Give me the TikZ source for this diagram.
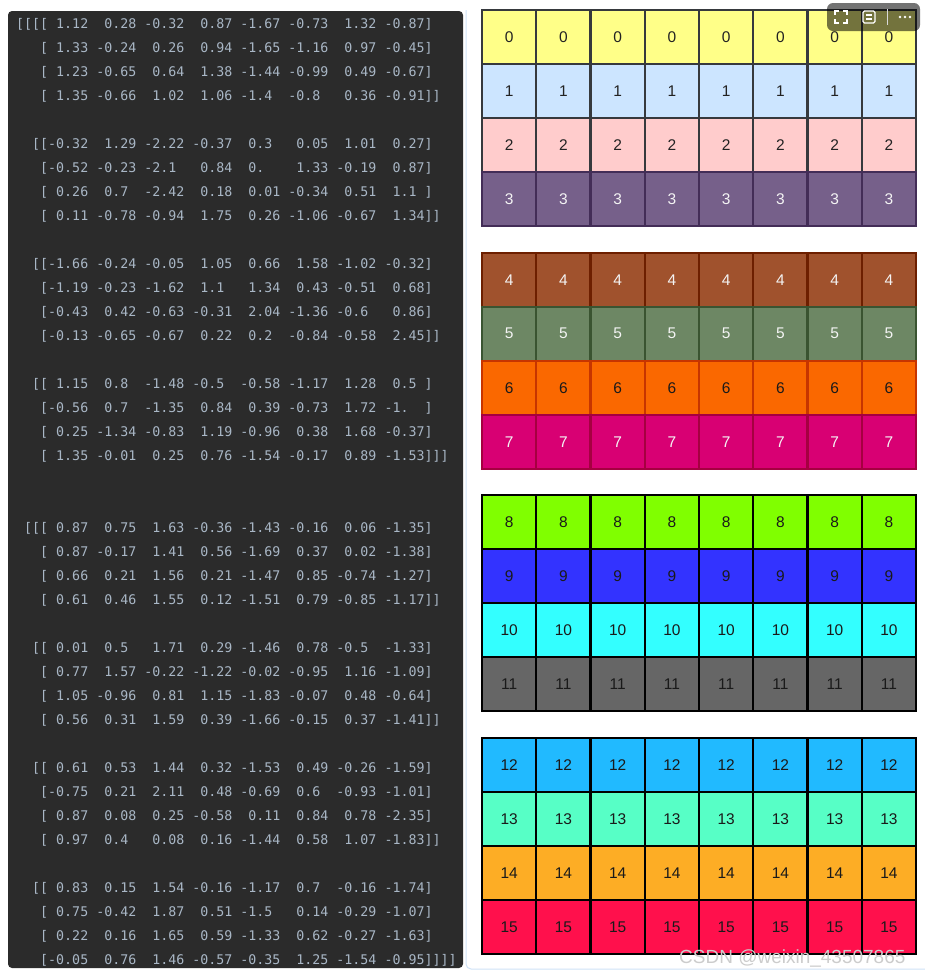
\documentclass[tikz,border=0pt]{standalone}
\usepackage{fontspec}
\setmainfont{Liberation Sans}
\setmonofont{DejaVu Sans Mono}

% editor colours
\definecolor{panelbg}{HTML}{2B2B2B}
\definecolor{codetext}{HTML}{A9B7C6}
\definecolor{framecol}{HTML}{CFE2F7}
% fill, border and text colour of every row of blocks
\definecolor{f0}{HTML}{FFFF88}\definecolor{b0}{HTML}{36393D}\definecolor{t0}{HTML}{222222}
\definecolor{f1}{HTML}{CCE5FF}\definecolor{b1}{HTML}{36393D}\definecolor{t1}{HTML}{222222}
\definecolor{f2}{HTML}{FFCCCC}\definecolor{b2}{HTML}{36393D}\definecolor{t2}{HTML}{222222}
\definecolor{f3}{HTML}{76608A}\definecolor{b3}{HTML}{432D57}\definecolor{t3}{HTML}{F4F4F4}
\definecolor{f4}{HTML}{A0522D}\definecolor{b4}{HTML}{6D1F00}\definecolor{t4}{HTML}{F4F4F4}
\definecolor{f5}{HTML}{6D8764}\definecolor{b5}{HTML}{3A5431}\definecolor{t5}{HTML}{F4F4F4}
\definecolor{f6}{HTML}{FA6800}\definecolor{b6}{HTML}{C73500}\definecolor{t6}{HTML}{1A1A1A}
\definecolor{f7}{HTML}{D80073}\definecolor{b7}{HTML}{A50040}\definecolor{t7}{HTML}{F4F4F4}
\definecolor{f8}{HTML}{80FF00}\definecolor{b8}{HTML}{000000}\definecolor{t8}{HTML}{1A1A1A}
\definecolor{f9}{HTML}{3333FF}\definecolor{b9}{HTML}{000000}\definecolor{t9}{HTML}{1A1A1A}
\definecolor{f10}{HTML}{33FFFF}\definecolor{b10}{HTML}{000000}\definecolor{t10}{HTML}{1A1A1A}
\definecolor{f11}{HTML}{666666}\definecolor{b11}{HTML}{000000}\definecolor{t11}{HTML}{1A1A1A}
\definecolor{f12}{HTML}{21BAFF}\definecolor{b12}{HTML}{000000}\definecolor{t12}{HTML}{1A1A1A}
\definecolor{f13}{HTML}{57FFC6}\definecolor{b13}{HTML}{000000}\definecolor{t13}{HTML}{1A1A1A}
\definecolor{f14}{HTML}{FDAD25}\definecolor{b14}{HTML}{000000}\definecolor{t14}{HTML}{1A1A1A}
\definecolor{f15}{HTML}{FF104C}\definecolor{b15}{HTML}{000000}\definecolor{t15}{HTML}{1A1A1A}

\tikzset{
  numline/.style={anchor=base west, inner sep=0pt, text=codetext,
    font=\fontsize{13.3}{16}\selectfont\ttfamily},
  cell/.style={draw, line width=2.2pt, minimum width=54.25pt, minimum height=54pt,
    inner sep=0pt, outer sep=0pt, font=\fontsize{15.5}{18}\selectfont},
}

\begin{document}
\begin{tikzpicture}[x=1pt,y=-1pt]
  %ramme
  	\fill[white] (0,0) rectangle (925,978);
  	\useasboundingbox (0,0) rectangle (925,978);

  %konsol med tallene
  	\fill[panelbg,rounded corners=4pt] (8,11) rectangle (463,968);
  	\draw[framecol,line width=1pt,rounded corners=5pt] (466,10) -- (466,969) -- (925,969);
	\foreach \txt/\i in {
	  [[[[~1.12~~0.28~-0.32~~0.87~-1.67~-0.73~~1.32~-0.87]/0,
	  ~~~[~1.33~-0.24~~0.26~~0.94~-1.65~-1.16~~0.97~-0.45]/1,
	  ~~~[~1.23~-0.65~~0.64~~1.38~-1.44~-0.99~~0.49~-0.67]/2,
	  ~~~[~1.35~-0.66~~1.02~~1.06~-1.4~~-0.8~~~0.36~-0.91]]/3,
	  ~~[[-0.32~~1.29~-2.22~-0.37~~0.3~~~0.05~~1.01~~0.27]/5,
	  ~~~[-0.52~-0.23~-2.1~~~0.84~~0.~~~~1.33~-0.19~~0.87]/6,
	  ~~~[~0.26~~0.7~~-2.42~~0.18~~0.01~-0.34~~0.51~~1.1~]/7,
	  ~~~[~0.11~-0.78~-0.94~~1.75~~0.26~-1.06~-0.67~~1.34]]/8,
	  ~~[[-1.66~-0.24~-0.05~~1.05~~0.66~~1.58~-1.02~-0.32]/10,
	  ~~~[-1.19~-0.23~-1.62~~1.1~~~1.34~~0.43~-0.51~~0.68]/11,
	  ~~~[-0.43~~0.42~-0.63~-0.31~~2.04~-1.36~-0.6~~~0.86]/12,
	  ~~~[-0.13~-0.65~-0.67~~0.22~~0.2~~-0.84~-0.58~~2.45]]/13,
	  ~~[[~1.15~~0.8~~-1.48~-0.5~~-0.58~-1.17~~1.28~~0.5~]/15,
	  ~~~[-0.56~~0.7~~-1.35~~0.84~~0.39~-0.73~~1.72~-1.~~]/16,
	  ~~~[~0.25~-1.34~-0.83~~1.19~-0.96~~0.38~~1.68~-0.37]/17,
	  ~~~[~1.35~-0.01~~0.25~~0.76~-1.54~-0.17~~0.89~-1.53]]]/18,
	  ~[[[~0.87~~0.75~~1.63~-0.36~-1.43~-0.16~~0.06~-1.35]/21,
	  ~~~[~0.87~-0.17~~1.41~~0.56~-1.69~~0.37~~0.02~-1.38]/22,
	  ~~~[~0.66~~0.21~~1.56~~0.21~-1.47~~0.85~-0.74~-1.27]/23,
	  ~~~[~0.61~~0.46~~1.55~~0.12~-1.51~~0.79~-0.85~-1.17]]/24,
	  ~~[[~0.01~~0.5~~~1.71~~0.29~-1.46~~0.78~-0.5~~-1.33]/26,
	  ~~~[~0.77~~1.57~-0.22~-1.22~-0.02~-0.95~~1.16~-1.09]/27,
	  ~~~[~1.05~-0.96~~0.81~~1.15~-1.83~-0.07~~0.48~-0.64]/28,
	  ~~~[~0.56~~0.31~~1.59~~0.39~-1.66~-0.15~~0.37~-1.41]]/29,
	  ~~[[~0.61~~0.53~~1.44~~0.32~-1.53~~0.49~-0.26~-1.59]/31,
	  ~~~[-0.75~~0.21~~2.11~~0.48~-0.69~~0.6~~-0.93~-1.01]/32,
	  ~~~[~0.87~~0.08~~0.25~-0.58~~0.11~~0.84~~0.78~-2.35]/33,
	  ~~~[~0.97~~0.4~~~0.08~~0.16~-1.44~~0.58~~1.07~-1.83]]/34,
	  ~~[[~0.83~~0.15~~1.54~-0.16~-1.17~~0.7~~-0.16~-1.74]/36,
	  ~~~[~0.75~-0.42~~1.87~~0.51~-1.5~~~0.14~-0.29~-1.07]/37,
	  ~~~[~0.22~~0.16~~1.65~~0.59~-1.33~~0.62~-0.27~-1.63]/38,
	  ~~~[-0.05~~0.76~~1.46~-0.57~-0.35~~1.25~-1.54~-0.95]]]]/39}
	  \node[numline] (l\i) at (16,{28+24*\i}) {\txt};

  %blokkene, 4 grupper med 4 raekker
	\foreach \r in {0,...,15}{
	  \pgfmathtruncatemacro\g{\r/4}
	  \pgfmathsetmacro\yc{10+242.67*\g+54*(\r-4*\g)+27}
	  \foreach \c in {0,...,7}
	    \node[cell,fill=f\r,draw=b\r,text=t\r] (c\r-\c) at ({509.125+54.25*\c},\yc) {\r};
	}

  %vaerktoejslinje
	\fill[black,opacity=0.55,rounded corners=6pt] (827,3) rectangle (920,31);
	\draw[white,line width=1.2pt] (835,15) -- (835,11) -- (839,11) (843,11) -- (847,11) -- (847,15)
	  (847,19) -- (847,23) -- (843,23) (839,23) -- (835,23) -- (835,19);
	\draw[white,line width=1.2pt,rounded corners=1.5pt] (863,11) rectangle (875,23);
	\draw[white,line width=1.1pt] (866,15) -- (872,15) (866,19) -- (872,19);
	\draw[white!70!gray,line width=0.6pt] (887,9) -- (887,25);
	\foreach \d in {900,905,910}
	  \fill[white] (\d,17) circle (1.3pt);

  %vandmaerke
	\node[anchor=east,text=gray!40,font=\fontsize{19}{21}\selectfont] (wm) at (909,958) {CSDN @weixin\_43507865};
\end{tikzpicture}
\end{document}
